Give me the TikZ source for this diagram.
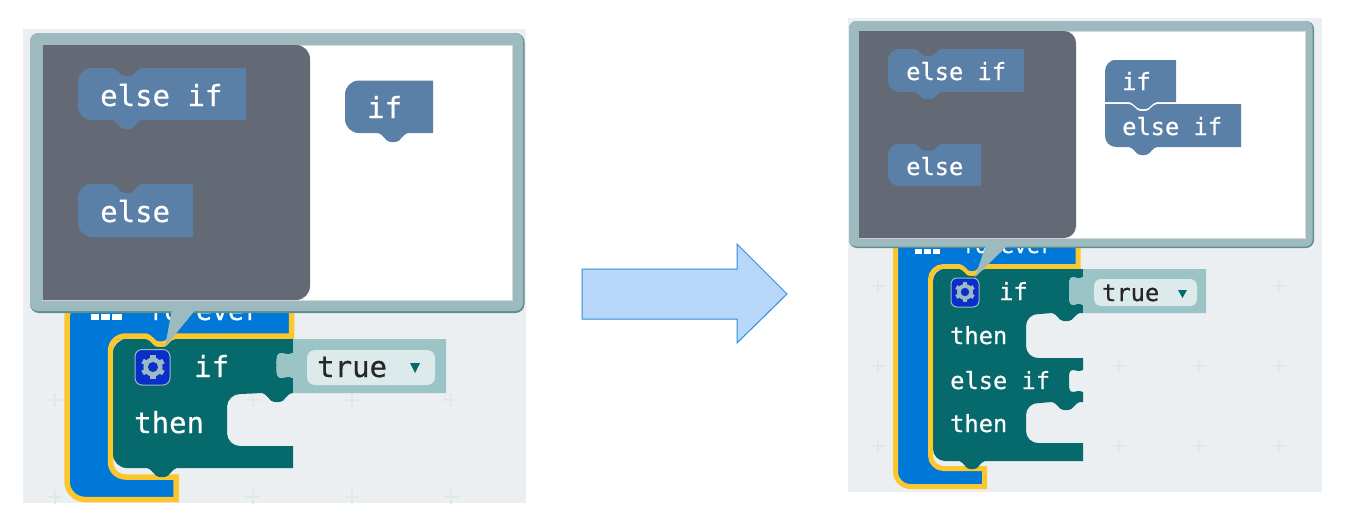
\documentclass[tikz,border=0pt]{standalone}
\usepackage{fontspec}
\newfontfamily\blockfont[RawFeature={embolden=0.5}]{DejaVu Sans Mono}
\newcommand{\bigtext}{\blockfont\fontsize{29}{29}\selectfont}
\newcommand{\smalltext}{\blockfont\fontsize{23.7}{24}\selectfont}
\definecolor{paneback}{HTML}{EBEFF1}
\definecolor{crossline}{HTML}{E2E8EA}
\definecolor{calloutfill}{HTML}{9DBBBE}
\definecolor{calloutedge}{HTML}{5E8F92}
\definecolor{flyoutfill}{HTML}{636A75}
\definecolor{flyblockfill}{HTML}{5B80A7}
\definecolor{ifteal}{HTML}{06696B}
\definecolor{fieldfill}{HTML}{9BC4C7}
\definecolor{pillfill}{HTML}{DCEAEC}
\definecolor{foreverblue}{HTML}{0078D7}
\definecolor{forevergold}{HTML}{FBC62E}
\definecolor{gearblue}{HTML}{0A2FC8}
\definecolor{gearlight}{HTML}{9BBAC4}
\definecolor{arrowfill}{HTML}{B9D7F9}
\definecolor{arrowedge}{HTML}{2E8FDC}
% dip in a horizontal edge: centre x, y, half width (negative when going left), depth
\newcommand{\dip}[4]{-- (#1-1*#3,#2)
    .. controls (#1-.85*#3,#2) and (#1-.75*#3,#2+.2*#4) .. (#1-.4*#3,#2+.85*#4)
    .. controls (#1-.18*#3,#2+1.08*#4) and (#1+.18*#3,#2+1.08*#4) .. (#1+.4*#3,#2+.85*#4)
    .. controls (#1+.75*#3,#2+.2*#4) and (#1+.85*#3,#2) .. (#1+#3,#2)}
% round socket in a vertical edge: x, first y, last y, depth
\newcommand{\socket}[4]{-- (#1,#2)
    .. controls (#1-.35*#4,#2+.1*#3-.1*#2) and (#1-.5*#4,#2) .. (#1-.72*#4,#2)
    .. controls (#1-1.02*#4,#2) and (#1-1*#4,#2+.2*#3-.2*#2) .. (#1-1*#4,#2+.5*#3-.5*#2)
    .. controls (#1-1*#4,#3+.2*#2-.2*#3) and (#1-1.02*#4,#3) .. (#1-.72*#4,#3)
    .. controls (#1-.5*#4,#3) and (#1-.35*#4,#3+.1*#2-.1*#3) .. (#1,#3)}
\newcommand{\gear}[3]{%
    \foreach \a in {30,90,...,330} \draw[gearlight,line width=.42*#3pt] (#1,#2) -- +(\a:#3pt);
    \fill[gearlight] (#1,#2) circle[radius=.8*#3pt];
    \fill[gearblue] (#1,#2) circle[radius=.42*#3pt];}
\begin{document}
\begin{tikzpicture}[
        x=1pt,y=-1pt,
        pane/.style={fill=paneback},
        crossmark/.style={crossline,line width=1.5pt},
        callout/.style={fill=calloutfill},
        calloutrim/.style={fill=calloutedge},
        inside/.style={fill=white,draw=black!15,line width=.8pt},
        flyout/.style={fill=flyoutfill},
        flyblock/.style={fill=flyblockfill},
        foreverblock/.style={fill=foreverblue,draw=forevergold,line width=5.5pt,miter limit=3},
        ifblock/.style={fill=ifteal},
        fieldblock/.style={fill=fieldfill},
        pill/.style={fill=pillfill,rounded corners=8pt},
        gearbox/.style={fill=gearblue,draw=gearlight,line width=1pt,rounded corners=7pt},
        label/.style={text=white,anchor=base west,inner sep=0pt},
        biglabel/.style={label,font=\bigtext},
        smalllabel/.style={label,font=\smalltext}
    ]
    \useasboundingbox (0,0) rectangle (1347,523);
    \fill[white] (0,0) rectangle (1347,523);

    % Draw left pane %
    \fill[pane] (22.5,29) rectangle (526,503);
    \foreach \px in {55,253,352,451}
        \foreach \py in {400,497} {
            \draw[crossmark] (\px-7,\py) -- (\px+7,\py);
            \draw[crossmark] (\px,\py-7) -- (\px,\py+7);
        }

    % Draw left forever block %
    \filldraw[foreverblock] (67,300) -- (291.5,300) -- (291.5,336) \dip{160.5}{336}{-15}{8}
        [rounded corners=15pt] -- (110.5,336) -- (110.5,477) [sharp corners] -- (176,477)
        -- (176,499.5) [rounded corners=18pt] -- (67,499.5) -- cycle;
    \foreach \bx/\bw in {91/8,101/9,112/10}
        \fill[white] (\bx,314) rectangle (\bx+\bw,320);
    \node[label,font=\blockfont\fontsize{26.5}{27}\selectfont] (foreverl) at (148,320) {forever};

    % Draw left if block %
    \fill[ifblock] (130,339) \dip{160.5}{339}{15}{8} -- (293,339) \socket{293}{353}{378}{16.5}
        -- (293,393) \dip{277}{393}{-15}{9} -- (241,394) [rounded corners=13pt] -- (227,394)
        -- (227,446) [sharp corners] -- (293,446) -- (293,468) \dip{162}{468}{-15}{9}
        [rounded corners=14pt] -- (113,468) -- (113,339) -- cycle;
    \fill[fieldblock] (293,339) -- (446,339) -- (446,393) -- (293,393) \socket{293}{378}{353}{16.5} -- cycle;
    \fill[pill] (307,350) rectangle (435,385);
    \node[biglabel,text=black!85] (truel) at (317,377) {true};
    \fill[ifteal] (410,363) -- (420,363) -- (415,373) -- cycle;
    \filldraw[gearbox] (135,349.5) rectangle (170,385);
    \gear{153}{367}{12}
    \node[biglabel] (ifl) at (194,377) {if};
    \node[biglabel] (thenl) at (134,433) {then};

    % Draw left callout %
    \fill[calloutrim,rounded corners=9pt] (30,33) rectangle (524.5,313);
    \fill[callout,rounded corners=8pt] (30,33) rectangle (523,311);
    \fill[callout] (172,309) -- (196,309) -- (165,347) -- cycle;
    \filldraw[inside] (42.7,45) rectangle (512.7,300);
    \fill[flyout] (42.7,300) -- (42.7,45) [rounded corners=14pt] -- (310,45) -- (310,300) [sharp corners] -- cycle;

    % Draw left flyout blocks %
    \fill[flyblock] (90,68) \dip{127}{68}{15}{8} -- (246,68) -- (246,120) \dip{127}{120}{-15}{9}
        [rounded corners=14pt] -- (78,120) -- (78,68) -- cycle;
    \fill[flyblock] (90,184) \dip{127}{184}{15}{9} -- (193,184) -- (193,237)
        [rounded corners=14pt] -- (78,237) -- (78,184) -- cycle;
    \fill[flyblock] (400,80.5) -- (433,80.5) -- (433,133) \dip{393}{133}{-15}{9}
        [rounded corners=14pt] -- (345,133) -- (345,80.5) -- cycle;
    \node[biglabel] (elseifa) at (100,106) {else if};
    \node[biglabel] (elsea) at (100,222) {else};
    \node[biglabel] (ifa) at (367,118) {if};

    % Draw arrow %
    \filldraw[fill=arrowfill,draw=arrowedge,line width=1pt] (582,269) -- (737,269) -- (737,244)
        -- (787,294) -- (737,343) -- (737,319) -- (582,319) -- cycle;

    % Draw right pane %
    \fill[pane] (848,17.5) rectangle (1322,492);
    \foreach \px/\py in {878/286,1279/286,878/366,1119/366,1199/366,1279/366,878/446,1119/446,1199/446,1279/446} {
        \draw[crossmark] (\px-7,\py) -- (\px+7,\py);
        \draw[crossmark] (\px,\py-7) -- (\px,\py+7);
    }

    % Draw right forever block %
    \filldraw[foreverblock,line width=5pt] (895.5,230) -- (1078,230) -- (1078,266.5) \dip{972}{266.5}{-13}{7}
        [rounded corners=13pt] -- (930.5,266.5) -- (930.5,468.5) [sharp corners] -- (984.5,468.5)
        -- (984.5,486.5) [rounded corners=15pt] -- (895.5,486.5) -- cycle;
    \foreach \bx/\bw in {915/7,924/7,933/7}
        \fill[white] (\bx,249) rectangle (\bx+\bw,254);
    \node[label,font=\blockfont\fontsize{21.5}{22}\selectfont] (foreverr) at (962,253) {forever};

    % Draw right if block %
    \fill[ifblock] (948,269) \dip{972}{269}{13}{7} -- (1083,269) \socket{1083}{277}{305}{14}
        -- (1083,313) \dip{1066}{313}{-14}{8} -- (1040,314) [rounded corners=12pt] -- (1026,314)
        -- (1026,358) [sharp corners] -- (1083,358) \socket{1083}{370}{392}{14}
        -- (1083,402) \dip{1066}{402}{-14}{8} -- (1040,403) [rounded corners=12pt] -- (1026,403)
        -- (1026,443) [sharp corners] -- (1083,443) -- (1083,461) \dip{972}{461}{-13}{8}
        [rounded corners=12pt] -- (933,461) -- (933,269) -- cycle;
    \fill[fieldblock] (1083,269) -- (1206,269) -- (1206,313) -- (1083,313) \socket{1083}{305}{277}{14} -- cycle;
    \fill[pill,rounded corners=7pt] (1094,279) rectangle (1197,306);
    \node[smalllabel,text=black!85] (truer) at (1102,301) {true};
    \fill[ifteal] (1178,290) -- (1187,290) -- (1182.5,298) -- cycle;
    \filldraw[gearbox,rounded corners=6pt] (951,278) rectangle (979,307);
    \gear{965}{292}{10}
    \node[smalllabel] (ifr) at (999,300) {if};
    \node[smalllabel] (thena) at (950,344) {then};
    \node[smalllabel] (elseifr) at (950,389) {else if};
    \node[smalllabel] (thenb) at (950,432) {then};

    % Draw right callout %
    \fill[calloutrim,rounded corners=8pt] (849,21) rectangle (1314,248);
    \fill[callout,rounded corners=7pt] (849,21) rectangle (1312.5,246.5);
    \fill[callout] (986,245) -- (1008,245) -- (975,277) -- cycle;
    \filldraw[inside] (859,31) rectangle (1305,238);
    \fill[flyout] (859,238) -- (859,31) [rounded corners=12pt] -- (1076,31) -- (1076,238) [sharp corners] -- cycle;

    % Draw right flyout blocks %
    \fill[flyblock] (900,49) \dip{928}{49}{14}{7} -- (1024,49) -- (1024,92) \dip{928}{92}{-14}{7}
        [rounded corners=11pt] -- (888,92) -- (888,49) -- cycle;
    \fill[flyblock] (900,144) \dip{928}{144}{14}{7} -- (981,144) -- (981,186)
        [rounded corners=11pt] -- (888,186) -- (888,144) -- cycle;
    \fill[flyblock] (1120,60) -- (1176,60) -- (1176,102) \dip{1143}{102}{-14}{7}
        -- (1105,102) [rounded corners=11pt] -- (1105,60) -- cycle;
    \fill[flyblock] (1120,104) \dip{1143}{104}{14}{7} -- (1241,104) -- (1241,147) \dip{1143}{147}{-14}{8}
        [rounded corners=11pt] -- (1105,147) [sharp corners] -- (1105,104) -- cycle;
    \node[smalllabel] (elseifb) at (906,80) {else if};
    \node[smalllabel] (elseb) at (906,175) {else};
    \node[smalllabel] (ifb) at (1122,90) {if};
    \node[smalllabel] (elseifc) at (1122,135) {else if};
\end{tikzpicture}
\end{document}
